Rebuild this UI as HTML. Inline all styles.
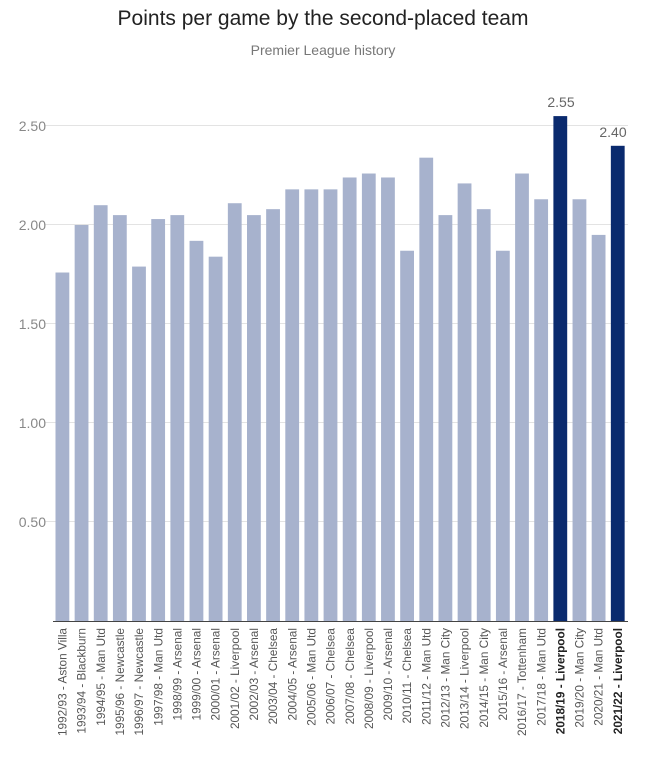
<!DOCTYPE html>
<html><head><meta charset="utf-8"><style>
html,body{margin:0;padding:0;background:#fff;width:648px;height:761px;overflow:hidden}
svg text{font-family:"Liberation Sans",sans-serif}
</style></head><body>
<svg width="648" height="761" viewBox="0 0 648 761" xmlns="http://www.w3.org/2000/svg">
<text x="323" y="25" text-anchor="middle" font-size="21" fill="#222">Points per game by the second-placed team</text>
<text x="323" y="55" text-anchor="middle" font-size="14" fill="#777">Premier League history</text>
<g stroke="#e3e3e3" stroke-width="1">
<line x1="45" y1="125.5" x2="628" y2="125.5"/>
<line x1="45" y1="224.5" x2="628" y2="224.5"/>
<line x1="45" y1="323.5" x2="628" y2="323.5"/>
<line x1="45" y1="422.5" x2="628" y2="422.5"/>
<line x1="45" y1="521.5" x2="628" y2="521.5"/>
</g>
<g font-size="14" fill="#888" text-anchor="end">
<text x="46" y="131">2.50</text>
<text x="46" y="230">2.00</text>
<text x="46" y="329">1.50</text>
<text x="46" y="428">1.00</text>
<text x="46" y="527">0.50</text>
</g>
<g id="bars"></g>
<line x1="53" y1="621.5" x2="628" y2="621.5" stroke="#444" stroke-width="1"/>
<g id="labels"></g>
<text x="561" y="107" text-anchor="middle" font-size="14" fill="#666">2.55</text>
<text x="613" y="137" text-anchor="middle" font-size="14" fill="#666">2.40</text>
<script>
var d=[["1992/93 - Aston Villa",1.76],["1993/94 - Blackburn",2.00],["1994/95 - Man Utd",2.10],["1995/96 - Newcastle",2.05],["1996/97 - Newcastle",1.79],["1997/98 - Man Utd",2.03],["1998/99 - Arsenal",2.05],["1999/00 - Arsenal",1.92],["2000/01 - Arsenal",1.84],["2001/02 - Liverpool",2.11],["2002/03 - Arsenal",2.05],["2003/04 - Chelsea",2.08],["2004/05 - Arsenal",2.18],["2005/06 - Man Utd",2.18],["2006/07 - Chelsea",2.18],["2007/08 - Chelsea",2.24],["2008/09 - Liverpool",2.26],["2009/10 - Arsenal",2.24],["2010/11 - Chelsea",1.87],["2011/12 - Man Utd",2.34],["2012/13 - Man City",2.05],["2013/14 - Liverpool",2.21],["2014/15 - Man City",2.08],["2015/16 - Arsenal",1.87],["2016/17 - Tottenham",2.26],["2017/18 - Man Utd",2.13],["2018/19 - Liverpool",2.55],["2019/20 - Man City",2.13],["2020/21 - Man Utd",1.95],["2021/22 - Liverpool",2.40]];
var ns="http://www.w3.org/2000/svg",b=document.getElementById("bars"),l=document.getElementById("labels");
d.forEach(function(e,i){var x=55.5+i*19.15,h=198*e[1],hl=(i==26||i==29);
var r=document.createElementNS(ns,"rect");r.setAttribute("x",x);r.setAttribute("y",621-h);r.setAttribute("width",13.8);r.setAttribute("height",h);r.setAttribute("fill",hl?"#0a2a6e":"#a7b2cd");b.appendChild(r);
var t=document.createElementNS(ns,"text");var cx=x+7+4;t.setAttribute("transform","translate("+cx+",628) rotate(-90)");t.setAttribute("text-anchor","end");t.setAttribute("font-size","11.8");t.setAttribute("fill",hl?"#222":"#555");if(hl)t.setAttribute("font-weight","bold");t.textContent=e[0];l.appendChild(t);});
</script>
</svg>
</body></html>
